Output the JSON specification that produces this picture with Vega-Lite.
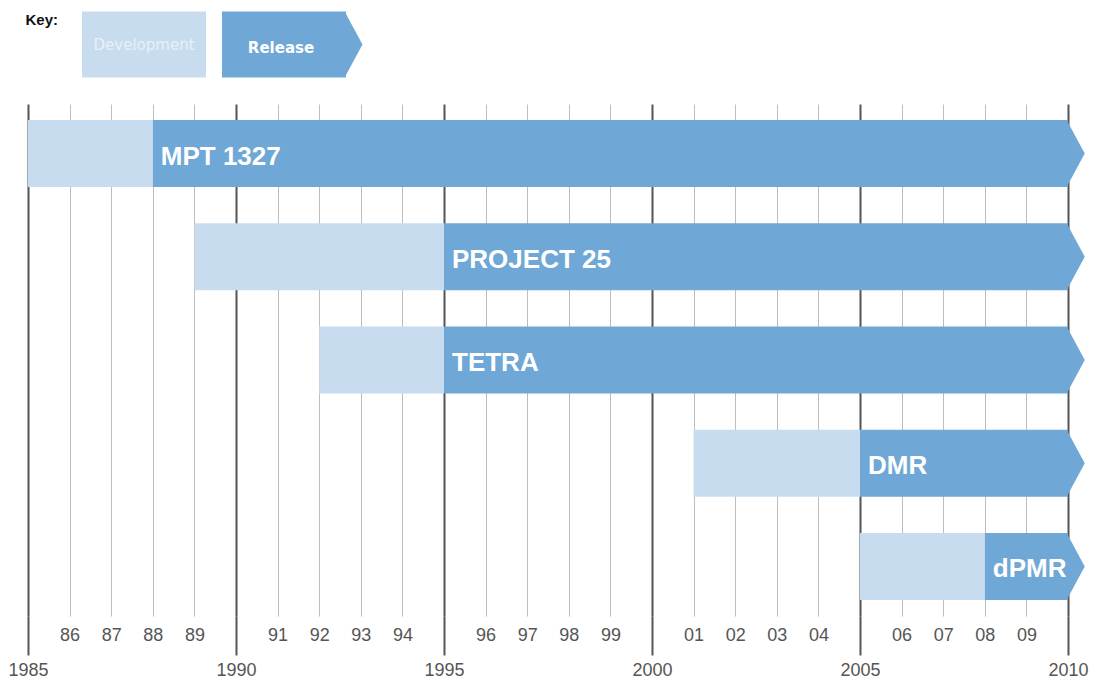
{
  "$schema": "https://vega.github.io/schema/vega-lite/v6.json",
  "background": "white",
  "padding": {"left": 7, "top": 11.5, "right": 5, "bottom": 5},
  "config": {"view": {"stroke": null}},
  "spacing": 26.5,
  "datasets": {
    "systems": [
      {"system": "MPT 1327", "phase": "Development", "start": 1985, "end": 1988},
      {"system": "MPT 1327", "phase": "Release", "start": 1988, "end": 2010},
      {"system": "PROJECT 25", "phase": "Development", "start": 1989, "end": 1995},
      {"system": "PROJECT 25", "phase": "Release", "start": 1995, "end": 2010},
      {"system": "TETRA", "phase": "Development", "start": 1992, "end": 1995},
      {"system": "TETRA", "phase": "Release", "start": 1995, "end": 2010},
      {"system": "DMR", "phase": "Development", "start": 2001, "end": 2005},
      {"system": "DMR", "phase": "Release", "start": 2005, "end": 2010},
      {"system": "dPMR", "phase": "Development", "start": 2005, "end": 2008},
      {"system": "dPMR", "phase": "Release", "start": 2008, "end": 2010}
    ],
    "key": [{"phase": "Development"}, {"phase": "Release"}]
  },
  "vconcat": [
    {
      "width": 372,
      "height": 66,
      "layer": [
        {
          "data": {"name": "key"},
          "mark": {"type": "rect"},
          "encoding": {
            "x": {"field": "phase", "type": "nominal", "scale": {"domain": ["Development", "Release"], "paddingInner": 0.114, "paddingOuter": 0.386}, "axis": null},
            "color": {"field": "phase", "type": "nominal", "scale": {"domain": ["Development", "Release"], "range": ["#c8dcef", "#6fa8d6"]}, "legend": null}
          }
        },
        {
          "data": {"name": "key"},
          "transform": [{"filter": "datum.phase === 'Release'"}],
          "mark": {"type": "point", "shape": "M-0.04,-1L0.5,0L-0.04,1Z", "size": 4356, "filled": true, "opacity": 1, "strokeWidth": 0},
          "encoding": {
            "x": {"field": "phase", "type": "nominal", "bandPosition": 1, "axis": null},
            "color": {"field": "phase", "type": "nominal", "legend": null}
          }
        },
        {
          "data": {"name": "key"},
          "transform": [{"filter": "datum.phase === 'Development'"}],
          "mark": {"type": "text", "font": "DejaVu Sans", "fontSize": 15, "color": "#e8f0f8"},
          "encoding": {
            "x": {"field": "phase", "type": "nominal", "axis": null},
            "text": {"field": "phase"}
          }
        },
        {
          "data": {"name": "key"},
          "transform": [{"filter": "datum.phase === 'Release'"}],
          "mark": {"type": "text", "font": "DejaVu Sans", "fontSize": 15, "fontWeight": "bold", "color": "white", "dy": 3, "dx": -3},
          "encoding": {
            "x": {"field": "phase", "type": "nominal", "axis": null},
            "text": {"field": "phase"}
          }
        },
        {
          "data": {"values": [{"label": "Key:"}]},
          "mark": {"type": "text", "font": "Liberation Sans", "fontSize": 15, "fontWeight": "bold", "color": "#111111", "align": "right", "baseline": "alphabetic", "dx": -24, "dy": -19.5},
          "encoding": {
            "x": {"datum": "Development", "type": "nominal", "bandPosition": 0, "axis": null},
            "text": {"field": "label"}
          }
        }
      ]
    },
    {
      "width": 1040,
      "height": 512,
      "data": {"name": "systems"},
      "resolve": {"axis": {"x": "independent"}},
      "layer": [
        {
          "transform": [{"filter": "datum.phase === 'Development'"}],
          "mark": {"type": "bar"},
          "encoding": {
            "x": {
              "field": "start", "type": "quantitative",
              "scale": {"domain": [1985, 2010], "nice": false, "zero": false},
              "axis": {
                "orient": "bottom", "title": null, "domain": false,
                "values": [1986, 1987, 1988, 1989, 1991, 1992, 1993, 1994, 1996, 1997, 1998, 1999, 2001, 2002, 2003, 2004, 2006, 2007, 2008, 2009],
                "grid": true, "gridColor": "#bdbdbd", "gridWidth": 1,
                "ticks": false, "tickSize": 0,
                "labelExpr": "substring(toString(datum.value), 2, 4)",
                "labelPadding": 19, "labelBaseline": "middle",
                "labelFont": "Liberation Sans", "labelFontSize": 18, "labelColor": "#555555",
                "labelFlush": false, "labelOverlap": false, "labelBound": false
              }
            },
            "x2": {"field": "end"},
            "y": {"field": "system", "type": "nominal", "scale": {"domain": ["MPT 1327", "PROJECT 25", "TETRA", "DMR", "dPMR"], "paddingInner": 0.351, "paddingOuter": 0.155}, "axis": null},
            "color": {"field": "phase", "type": "nominal", "scale": {"domain": ["Development", "Release"], "range": ["#c8dcef", "#6fa8d6"]}, "legend": null}
          }
        },
        {
          "transform": [{"filter": "datum.phase === 'Release'"}],
          "mark": {"type": "bar"},
          "encoding": {
            "x": {
              "field": "start", "type": "quantitative",
              "axis": {
                "orient": "bottom", "title": null, "domain": false,
                "values": [1985, 1990, 1995, 2000, 2005, 2010],
                "format": "d",
                "grid": true, "gridColor": "#555555", "gridWidth": 2,
                "ticks": true, "tickSize": 39, "tickColor": "#555555", "tickWidth": 2,
                "labelPadding": 15.5, "labelBaseline": "middle",
                "labelFont": "Liberation Sans", "labelFontSize": 18, "labelColor": "#555555",
                "labelFlush": false, "labelOverlap": false, "labelBound": false
              }
            },
            "x2": {"field": "end"},
            "y": {"field": "system", "type": "nominal", "axis": null},
            "color": {"field": "phase", "type": "nominal", "legend": null}
          }
        },
        {
          "transform": [{"filter": "datum.phase === 'Release'"}],
          "mark": {"type": "point", "shape": "M-0.04,-1L0.5,0L-0.04,1Z", "size": 4489, "filled": true, "opacity": 1, "strokeWidth": 0},
          "encoding": {
            "x": {"field": "end", "type": "quantitative", "axis": null},
            "y": {"field": "system", "type": "nominal", "axis": null},
            "color": {"field": "phase", "type": "nominal", "legend": null}
          }
        },
        {
          "transform": [{"filter": "datum.phase === 'Release'"}],
          "mark": {"type": "text", "align": "left", "baseline": "middle", "dx": 8, "dy": 3, "font": "Liberation Sans", "fontSize": 26, "fontWeight": "bold", "color": "white"},
          "encoding": {
            "x": {"field": "start", "type": "quantitative", "axis": null},
            "y": {"field": "system", "type": "nominal", "axis": null},
            "text": {"field": "system"}
          }
        }
      ]
    }
  ]
}
